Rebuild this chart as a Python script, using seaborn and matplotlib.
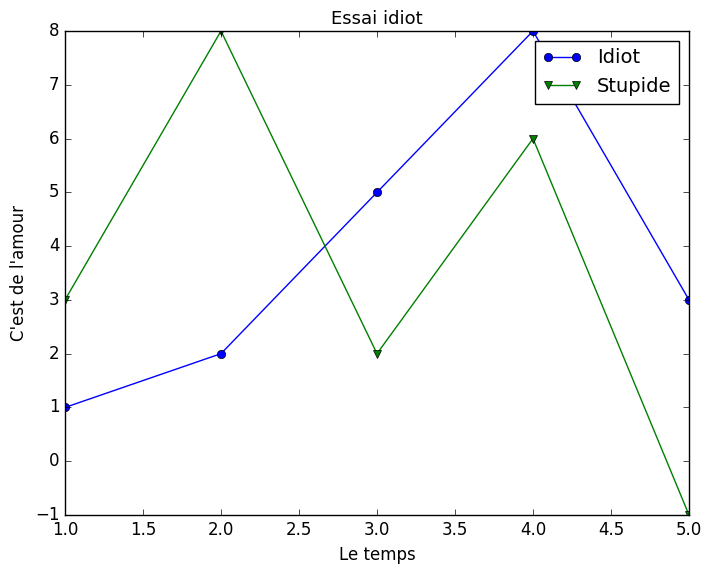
import matplotlib
matplotlib.use("Agg")
import matplotlib.pyplot as plt
import seaborn as sns
import pandas as pd

x = [1, 2, 3, 4, 5]
idiot = [1, 2, 5, 8, 3]
stupide = [3, 8, 2, 6, -1]

plt.style.use("classic")
plt.rcParams["font.family"] = ["DejaVu Sans"]

fig = plt.figure(figsize=(7.05, 5.64), dpi=100, facecolor="white")
ax = fig.add_axes([65/705, 1-515/564, (689-65)/705, (515-31)/564])

sns.lineplot(x=x, y=idiot, ax=ax, color="b", marker="o", markersize=6,
             markeredgecolor="k", markeredgewidth=0.5, label="Idiot", linewidth=1)
sns.lineplot(x=x, y=stupide, ax=ax, color="g", marker="v", markersize=6,
             markeredgecolor="k", markeredgewidth=0.5, label="Stupide", linewidth=1)

ax.set_xlim(1, 5)
ax.set_ylim(-1, 8)
ax.set_title("Essai idiot", fontsize=13)
ax.set_xlabel("Le temps", fontsize=12)
ax.set_ylabel("C'est de l'amour", fontsize=12)
ax.tick_params(labelsize=12)
ax.legend(loc="upper right", fontsize=14)

fig.savefig("out.png", dpi=100, facecolor="white")
